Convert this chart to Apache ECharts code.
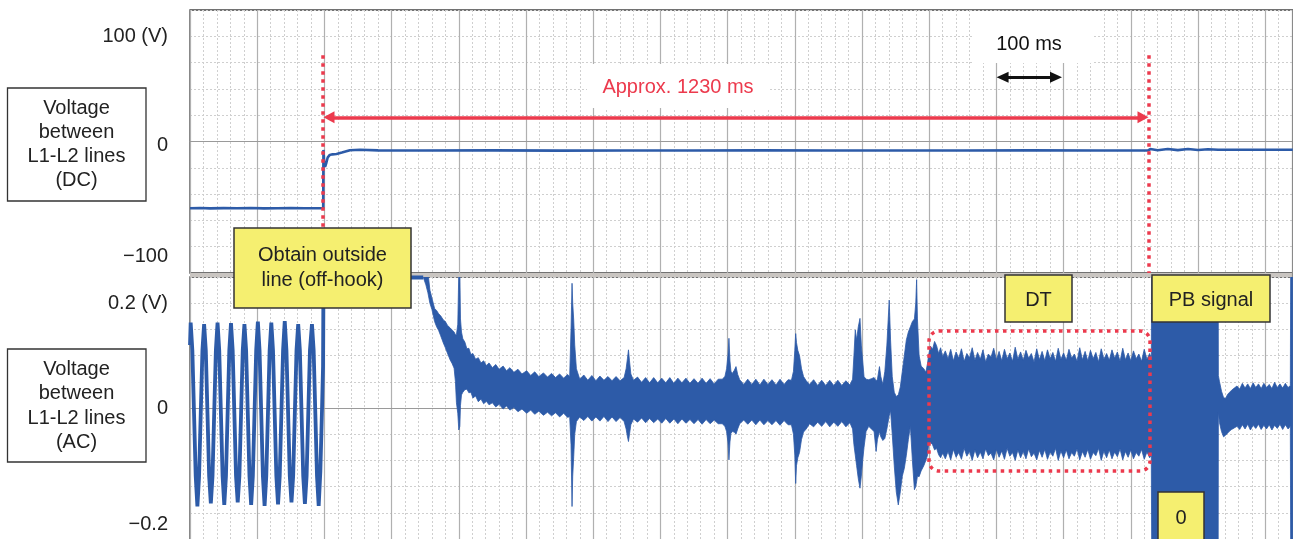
<!DOCTYPE html>
<html><head><meta charset="utf-8">
<script src="https://cdn.jsdelivr.net/npm/echarts@6/dist/echarts.min.js"></script>
<style>html,body{margin:0;padding:0;background:#fff}#c{width:1293px;height:539px}</style>
</head><body><div id="c"></div>
<script>
// ---------- data (time in ms, voltage in V) ----------
const timeMin = 0, timeMax = 1700, timeStep = 100;
const dcRange = [-125, 125], dcStep = 25;
const acRange = [-0.3, 0.25], acStep = 0.05;
const dcTicks = [100, 0, -100];
const dcTickText = ['100 (V)', '0', '−100'];
const acTicks = [0.2, 0, -0.2];
const acTickText = ['0.2 (V)', '0', '−0.2'];

// DC voltage between L1-L2 lines: [t, V]
const dcTrace = [[0,-63.5],[15,-63.2],[30,-63.6],[50,-63.3],[70,-63.5],[90,-63.2],[110,-63.6],[130,-63.4],[150,-63.2],[170,-63.5],[190,-63.4],[198.2,-63.5],[198.6,-8],[199.5,-18],[201,-24],[203,-20],[205,-15],[208,-12.8],[212,-12.2],[218,-11.9],[226,-10.5],[238,-8.3],[253,-7.8],[280,-8.4],[350,-8.6],[450,-8.4],[550,-8.7],[650,-8.5],[750,-8.6],[850,-8.4],[950,-8.6],[1050,-8.5],[1150,-8.6],[1250,-8.4],[1350,-8.6],[1426,-8.5],[1429,-7.2],[1440,-8.3],[1455,-7.1],[1470,-8.2],[1485,-7.2],[1500,-8.1],[1515,-7.3],[1530,-7.8],[1580,-7.8],[1641,-7.8]];

// AC ringing signal before off-hook, then saturated: [t, V]
const acRinging = [[0,.12],[1,.163],[3.5,.11],[6,-.01],[8.5,-.13],[11,-.188],
[13.5,-.13],[16,-.01],[18.5,.11],[21,.16],
[23.5,.11],[26,-.01],[28.5,-.13],[31,-.182],
[33.5,-.13],[36,-.01],[38.5,.11],[41,.163],
[43.5,.11],[46,-.01],[48.5,-.13],[51,-.185],
[53.5,-.13],[56,-.01],[58.5,.11],[61,.162],
[63.5,.11],[66,-.01],[68.5,-.13],[71,-.18],
[73.5,-.13],[76,-.01],[78.5,.11],[81,.16],
[83.5,.11],[86,-.01],[88.5,-.13],[91,-.185],
[93.5,-.13],[96,-.01],[98.5,.11],[101,.165],
[103.5,.11],[106,-.01],[108.5,-.13],[111,-.187],
[113.5,-.13],[116,-.01],[118.5,.11],[121,.163],
[123.5,.11],[126,-.01],[128.5,-.13],[131,-.184],
[133.5,-.13],[136,-.01],[138.5,.11],[141,.166],
[143.5,.11],[146,-.01],[148.5,-.13],[151,-.18],
[153.5,-.13],[156,-.01],[158.5,.11],[161,.16],
[163.5,.11],[166,-.01],[168.5,-.13],[171,-.183],
[173.5,-.13],[176,-.01],[178.5,.11],[181.5,.16],
[184,.11],[186.5,-.01],[189,-.13],[191.5,-.187],
[194,-.12],[196.5,.0],[198,.08],[198.6,.249],[347,.249]];

// AC envelope segments: [t, upper V, lower V]
const acDecay = [[347,.26,.25],[351,.26,.235],[354,.26,.22],[357,.225,.2],[360,.21,.188],[364,.19,.165],[367,.186,.155],[370,.18,.148],[373,.176,.138],[377,.168,.124],[380,.165,.115],[383,.158,.105],[387,.153,.092],[390,.149,.085],[393,.145,.076],[395,.14,.05],[396.5,.14,.01],[398.5,.16,-.01],[400,.26,-.042],[401.5,.26,-.035],[402.5,.17,.005],[404,.145,.025],[406,.132,.03],[409,.126,.035],[412,.113,.036],[415,.114,.029],[418,.102,.03],[421,.104,.019],[425,.093,.023],[429,.096,.012],[433,.086,.017],[437,.09,.008],[441,.081,.013],[445,.086,.006],[450,.077,.01],[455,.083,.002],[460,.074,.007],[466,.08,-.002],[471,.071,.004],[476,.077,-.004],[482,.068,.001],[488,.074,-.007],[494,.065,-.002],[501,.071,-.01],[507,.062,-.004],[513,.069,-.012],[519,.06,-.006],[526,.067,-.014],[532,.059,-.008],[538,.066,-.015],[544,.058,-.009],[550,.065,-.017],[556,.057,-.01],[562,.064,-.018]];
const acSpikes = [[565,.06,-.016],[567,.15,-.07],[568.5,.238,-.188],[569.5,.2,-.13],[571,.168,-.093],[572.5,.12,-.05],[575,.075,-.026],[580,.055,-.017],[586,.063,-.024],[592,.053,-.016],[598,.062,-.025],[604,.052,-.017],[610,.061,-.025],[616,.053,-.016],[622,.06,-.026],[628,.052,-.017],[634,.06,-.026],[640,.052,-.018],[646,.058,-.026],[649,.075,-.04],[651,.095,-.055],[652.5,.111,-.064],[654,.09,-.05],[656,.065,-.032],[660,.053,-.021]];
const acMid = [[666,.059,-.027],[672,.049,-.019],[678,.058,-.028],[684,.048,-.02],[690,.058,-.028],[696,.048,-.021],[702,.057,-.029],[708,.048,-.02],[714,.058,-.029],[720,.047,-.021],[726,.057,-.03],[732,.048,-.021],[738,.057,-.029],[744,.047,-.022],[750,.056,-.03],[756,.047,-.022],[762,.057,-.031],[768,.047,-.022],[774,.056,-.03],[780,.046,-.023],[786,.055,-.03],[792,.055,-.03],[796,.06,-.035],[798.5,.075,-.045],[800.5,.1,-.065],[802,.133,-.099],[803.5,.09,-.065],[805,.07,-.048],[807,.066,-.045],[810,.072,-.046],[812.5,.079,-.05],[815,.064,-.04],[818,.054,-.03],[824,.045,-.023],[830,.055,-.031],[836,.045,-.023],[842,.055,-.032],[848,.044,-.023],[854,.055,-.032],[860,.045,-.024],[866,.054,-.032],[872,.044,-.024],[878,.055,-.033],[884,.045,-.024],[890,.054,-.032],[895,.053,-.032],[898,.07,-.05],[900,.11,-.09],[901.3,.142,-.144],[902.5,.125,-.11],[904.5,.11,-.095],[907,.1,-.085],[910,.075,-.06],[913,.06,-.046],[917,.052,-.04],[922,.045,-.03],[928,.054,-.036],[934,.043,-.027],[940,.053,-.035],[946,.043,-.026],[952,.053,-.036],[958,.043,-.027],[964,.053,-.035],[970,.043,-.026],[976,.052,-.036],[982,.044,-.028]];
const acBurst = [[986,.055,-.04],[988,.1,-.07],[990,.149,-.09],[992,.13,-.11],[994.5,.155,-.135],[997,.171,-.153],[999,.12,-.13],[1001,.09,-.1],[1003,.06,-.075],[1006,.055,-.045],[1010,.054,-.035],[1014,.056,-.04],[1018,.058,-.045],[1021,.052,-.083],[1023,.055,-.06],[1026,.079,-.045],[1028,.06,-.055],[1031,.045,-.062],[1034,.07,-.058],[1037,.12,-.04],[1040.5,.206,-.015],[1042.5,.13,-.005],[1045,.06,-.05],[1048,.03,-.11],[1051,.022,-.16],[1054,.025,-.185],[1057,.04,-.16],[1060,.07,-.13],[1063,.1,-.115],[1066,.13,-.09],[1069,.145,-.06],[1072,.155,-.035],[1075,.165,-.1],[1078,.17,-.156],[1080,.2,-.15],[1081.3,.245,-.14],[1082.5,.17,-.13],[1085,.1,-.131],[1088,.08,-.12],[1092,.075,-.11],[1095,.068,-.1],[1097.5,.085,-.09]];
const acDialTone = [[1099,.1,-.072],[1102,.118,-.066],[1105,.112,-.07],[1108,.127,-.08],[1111,.119,-.077],[1114,.104,-.089],[1117,.115,-.095],[1120,.098,-.086],[1124,.109,-.097],[1128,.094,-.083],[1132,.112,-.099],[1136,.09,-.079],[1140,.107,-.094],[1144,.095,-.085],[1148,.113,-.098],[1152,.089,-.077],[1156,.104,-.092],[1160,.096,-.083],[1164,.115,-.1],[1168,.091,-.08],[1172,.106,-.095],[1176,.093,-.084],[1180,.111,-.097],[1184,.088,-.078],[1188,.103,-.091],[1192,.097,-.086],[1196,.114,-.099],[1200,.092,-.079],[1204,.108,-.094],[1208,.09,-.082],[1212,.112,-.098],[1216,.094,-.077],[1220,.105,-.092],[1224,.089,-.085],[1228,.116,-.1],[1232,.093,-.08],[1236,.107,-.095],[1240,.091,-.083],[1244,.11,-.097],[1248,.095,-.078],[1252,.104,-.093],[1256,.088,-.086],[1260,.113,-.099],[1264,.092,-.081],[1268,.108,-.094],[1272,.09,-.079],[1276,.111,-.098],[1280,.094,-.084],[1284,.106,-.092],[1288,.089,-.077],[1292,.114,-.1],[1296,.093,-.082],[1300,.105,-.095],[1304,.091,-.08],[1308,.112,-.097],[1312,.095,-.085],[1316,.103,-.092],[1320,.089,-.078],[1324,.115,-.099],[1328,.092,-.083],[1332,.108,-.094],[1336,.09,-.079],[1340,.11,-.098],[1344,.094,-.085],[1348,.106,-.091],[1352,.088,-.077],[1356,.113,-.1],[1360,.093,-.082],[1364,.104,-.095],[1368,.091,-.08],[1372,.111,-.097],[1376,.095,-.084],[1380,.107,-.093],[1384,.089,-.078],[1388,.114,-.099],[1392,.092,-.083],[1396,.105,-.094],[1400,.09,-.08],[1404,.109,-.097],[1408,.094,-.085],[1412,.103,-.092],[1416,.089,-.079],[1420,.112,-.098],[1424,.093,-.084],[1428,.104,-.095],[1430.5,.095,-.09]];
const acPushButton = [[1431.2,.3,-.3],[1530,.3,-.3]];
const acAfterPb = [[1530.3,.062,-.008],[1532,.05,-.028],[1535,.032,-.045],[1538,.02,-.055],[1541,.018,-.052],[1544,.026,-.048],[1547,.03,-.044],[1550,.034,-.041],[1554,.038,-.038],[1558,.042,-.035],[1562,.036,-.041],[1566,.047,-.032],[1570,.038,-.04],[1574,.046,-.031],[1578,.037,-.042],[1582,.048,-.033],[1586,.039,-.039],[1590,.046,-.031],[1594,.037,-.041],[1598,.047,-.033],[1602,.039,-.04],[1606,.045,-.032],[1610,.037,-.042],[1614,.049,-.033],[1618,.039,-.039],[1622,.046,-.031],[1626,.038,-.041],[1630,.047,-.032],[1634,.039,-.04],[1637.4,.043,-.035],[1638,.3,-.3],[1641,.3,-.3]];

// annotations (data space)
const offHookTime = 197, pbTime = 1427;
const spanArrow = {from: 206.8, to: 1418.2, level: 23};
const scaleArrow = {from: 1209.2, to: 1288.7, level: 61};
const markerTop = 82;

// ---------- styles ----------
const BLUE = '#2d5ba8', RED = '#ec3a4d', YEL = '#f5ef70';
const FONT = '"Liberation Sans", Arial, Helvetica, sans-serif';
const acEnvelope = [].concat(acDecay, acSpikes, acMid, acBurst, acDialTone, acPushButton, acAfterPb);

function tickFormatter(ticks, texts, shifts) {
  return function (v) {
    const i = ticks.findIndex(t => Math.abs(t - v) < 1e-6);
    if (i < 0) return '';
    return '{' + shifts[i] + '|' + texts[i] + '}';
  };
}
const richStyles = {
  s0: {fontSize: 20, fontFamily: FONT, color: '#222'},
  s4: {fontSize: 20, fontFamily: FONT, color: '#222', padding: [8, 0, 0, 0]},
  s10: {fontSize: 20, fontFamily: FONT, color: '#222', padding: [20, 0, 0, 0]},
  s12: {fontSize: 20, fontFamily: FONT, color: '#222', padding: [23, 0, 0, 0]}
};

function xAxisFor(gi) {
  return {
    gridIndex: gi, type: 'value', min: timeMin, max: timeMax, interval: timeStep,
    axisLabel: {show: false}, axisTick: {show: false},
    axisLine: {show: true, onZero: true, lineStyle: {color: '#9a9a9a', width: 1.2}},
    splitLine: {show: true, lineStyle: {color: '#b0b0b0', width: 1.2}},
    minorTick: {show: false, splitNumber: 5},
    minorSplitLine: {show: true, lineStyle: {color: '#cfcfcf', width: 1, type: [2, 2]}}
  };
}

const chart = echarts.init(document.getElementById('c'), null, {renderer: 'canvas'});
const option = {
  animation: false,
  backgroundColor: '#fff',
  grid: [
    {left: 190, top: 10, width: 1142.4, height: 263, outerBoundsMode: 'none', containLabel: false, show: true, borderColor: '#444', borderWidth: 1.3},
    {left: 190, top: 277, width: 1142.4, height: 288.2, outerBoundsMode: 'none', containLabel: false, show: true, borderColor: '#444', borderWidth: 1.3}
  ],
  xAxis: [xAxisFor(0), xAxisFor(1)],
  yAxis: [
    {gridIndex: 0, type: 'value', min: dcRange[0], max: dcRange[1], interval: dcStep,
     axisLine: {show: false}, axisTick: {show: false},
     splitLine: {lineStyle: {color: '#cfcfcf', type: [2, 2]}},
     axisLabel: {margin: 22, formatter: tickFormatter(dcTicks, dcTickText, ['s0', 's4', 's10']), rich: richStyles}},
    {gridIndex: 1, type: 'value', min: acRange[0], max: acRange[1], interval: acStep,
     axisLine: {show: false}, axisTick: {show: false},
     splitLine: {lineStyle: {color: '#cfcfcf', type: [2, 2]}},
     axisLabel: {margin: 22, formatter: tickFormatter(acTicks, acTickText, ['s0', 's0', 's12']), rich: richStyles}}
  ],
  series: [
    {type: 'line', xAxisIndex: 0, yAxisIndex: 0, data: dcTrace, showSymbol: false, silent: true,
     lineStyle: {color: BLUE, width: 2.6}, z: 3,
     markLine: {
       silent: true, animation: false, symbol: 'none', label: {show: false},
       data: [
         [{coord: [offHookTime, markerTop]}, {coord: [offHookTime, dcRange[0]]}],
         [{coord: [pbTime, markerTop]}, {coord: [pbTime, dcRange[0]]}],
         [{coord: [spanArrow.from, spanArrow.level], symbol: 'triangle', symbolSize: [12, 11], lineStyle: {type: 'solid', width: 3.5}},
          {coord: [spanArrow.to, spanArrow.level], symbol: 'triangle', symbolSize: [12, 11]}],
         [{coord: [scaleArrow.from, scaleArrow.level], symbol: 'triangle', symbolSize: [11, 12], lineStyle: {type: 'solid', width: 3, color: '#111'}, itemStyle: {color: '#111'}},
          {coord: [scaleArrow.to, scaleArrow.level], symbol: 'triangle', symbolSize: [11, 12], itemStyle: {color: '#111'}}]
       ],
       lineStyle: {color: RED, width: 3.5, type: [3.5, 4.5], cap: 'butt'},
       itemStyle: {color: RED}
     }},
    {type: 'line', xAxisIndex: 1, yAxisIndex: 1, data: acRinging, showSymbol: false, silent: true,
     lineStyle: {color: BLUE, width: 3.8, join: 'miter'}, z: 3},
    {type: 'custom', xAxisIndex: 1, yAxisIndex: 1, data: [[acEnvelope[0][0], 0]], silent: true, clip: true, z: 3,
     renderItem: function (params, api) {
       if (params.dataIndex !== 0) return;
       const up = acEnvelope.map(p => api.coord([p[0], p[1]]));
       const lo = acEnvelope.map(p => api.coord([p[0], p[2]])).reverse();
       const cs = params.coordSys;
       return {type: 'group',
         clipPath: {type: 'rect', shape: {x: cs.x, y: cs.y, width: cs.width, height: cs.height}},
         children: [{type: 'polygon', shape: {points: up.concat(lo)}, style: {fill: BLUE, stroke: BLUE, lineWidth: 0.8}}]};
     }}
  ],
  graphic: [
    {type: 'rect', z: 1, shape: {x: 190, y: 273, width: 1102.5, height: 4}, style: {fill: '#c9c5c1'}},
    {type: 'line', z: 1, shape: {x1: 1292.5, y1: 10, x2: 1292.5, y2: 539}, style: {stroke: '#8a8a8a', lineWidth: 1.2}},
    {type: 'rect', z: 1, shape: {x: 587, y: 64, width: 182, height: 44}, style: {fill: '#fff'}},
    {type: 'rect', z: 1, shape: {x: 973, y: 11, width: 120, height: 52}, style: {fill: '#fff'}},
    {type: 'text', z: 20, style: {text: 'Approx. 1230 ms', x: 678, y: 87, fill: RED, font: '20px ' + FONT, align: 'center', verticalAlign: 'middle', textAlign: 'center', textVerticalAlign: 'middle'}},
    {type: 'text', z: 20, style: {text: '100 ms', x: 1029, y: 44, fill: '#111', font: '20px ' + FONT, align: 'center', verticalAlign: 'middle', textAlign: 'center', textVerticalAlign: 'middle'}},
    {type: 'rect', z: 20, shape: {x: 7.5, y: 88, width: 138.5, height: 113}, style: {fill: '#fff', stroke: '#333', lineWidth: 1.3}},
    {type: 'text', z: 21, style: {text: 'Voltage\nbetween\nL1-L2 lines\n(DC)', x: 76.5, y: 144.5, fill: '#222', font: '20px ' + FONT, lineHeight: 24.3, align: 'center', verticalAlign: 'middle', textAlign: 'center', textVerticalAlign: 'middle'}},
    {type: 'rect', z: 20, shape: {x: 7.5, y: 349, width: 138.5, height: 113}, style: {fill: '#fff', stroke: '#333', lineWidth: 1.3}},
    {type: 'text', z: 21, style: {text: 'Voltage\nbetween\nL1-L2 lines\n(AC)', x: 76.5, y: 406, fill: '#222', font: '20px ' + FONT, lineHeight: 24.3, align: 'center', verticalAlign: 'middle', textAlign: 'center', textVerticalAlign: 'middle'}},
    {type: 'rect', z: 20, shape: {x: 234, y: 228, width: 177, height: 80}, style: {fill: YEL, stroke: '#333', lineWidth: 1.5}},
    {type: 'text', z: 21, style: {text: 'Obtain outside\nline (off-hook)', x: 322.5, y: 268, fill: '#222', font: '20px ' + FONT, lineHeight: 25, align: 'center', verticalAlign: 'middle', textAlign: 'center', textVerticalAlign: 'middle'}},
    {type: 'rect', z: 20, shape: {x: 1005, y: 275, width: 67, height: 47}, style: {fill: YEL, stroke: '#333', lineWidth: 1.5}},
    {type: 'text', z: 21, style: {text: 'DT', x: 1038.5, y: 300, fill: '#222', font: '20px ' + FONT, align: 'center', verticalAlign: 'middle', textAlign: 'center', textVerticalAlign: 'middle'}},
    {type: 'rect', z: 20, shape: {x: 1152, y: 275, width: 118, height: 47}, style: {fill: YEL, stroke: '#333', lineWidth: 1.5}},
    {type: 'text', z: 21, style: {text: 'PB signal', x: 1211, y: 300, fill: '#222', font: '20px ' + FONT, align: 'center', verticalAlign: 'middle', textAlign: 'center', textVerticalAlign: 'middle'}},
    {type: 'rect', z: 20, shape: {x: 1158, y: 492, width: 46, height: 60}, style: {fill: YEL, stroke: '#333', lineWidth: 1.5}},
    {type: 'text', z: 21, style: {text: '0', x: 1181, y: 518, fill: '#222', font: '20px ' + FONT, align: 'center', verticalAlign: 'middle', textAlign: 'center', textVerticalAlign: 'middle'}},
    {type: 'rect', z: 15, shape: {x: 929, y: 331, width: 221, height: 140, r: 10}, style: {fill: 'none', stroke: RED, lineWidth: 3.5, lineDash: [3.5, 4.5]}}
  ]
};
chart.setOption(option);
</script></body></html>
